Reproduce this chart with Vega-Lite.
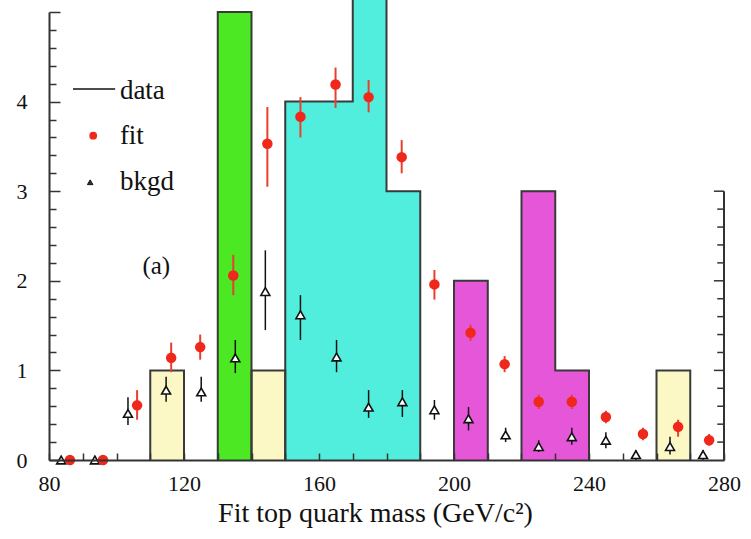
{
  "$schema": "https://vega.github.io/schema/vega-lite/v6.json",
  "width": 675,
  "height": 448,
  "autosize": {"type": "none"},
  "padding": {"left": 49, "top": 12, "right": 27, "bottom": 79},
  "background": "white",
  "config": {"view": {"stroke": null}, "font": "Liberation Serif"},
  "datasets": {
    "bins": [
      {"m": 110, "m2": 120, "v": 1, "c": "beige"},
      {"m": 130, "m2": 140, "v": 5, "c": "green"},
      {"m": 140, "m2": 150, "v": 1, "c": "beige"},
      {"m": 150, "m2": 160, "v": 4, "c": "cyan"},
      {"m": 160, "m2": 170, "v": 4, "c": "cyan"},
      {"m": 170, "m2": 180, "v": 6, "c": "cyan"},
      {"m": 180, "m2": 190, "v": 3, "c": "cyan"},
      {"m": 200, "m2": 210, "v": 2, "c": "magenta"},
      {"m": 220, "m2": 230, "v": 3, "c": "magenta"},
      {"m": 230, "m2": 240, "v": 1, "c": "magenta"},
      {"m": 260, "m2": 270, "v": 1, "c": "beige"}
    ],
    "outline": [
      {"g": "a", "o": 1, "m": 110, "v": 0}, {"g": "a", "o": 2, "m": 110, "v": 1}, {"g": "a", "o": 3, "m": 120, "v": 1}, {"g": "a", "o": 4, "m": 120, "v": 0},
      {"g": "b", "o": 1, "m": 130, "v": 0}, {"g": "b", "o": 2, "m": 130, "v": 5}, {"g": "b", "o": 3, "m": 140, "v": 5}, {"g": "b", "o": 4, "m": 140, "v": 0},
      {"g": "c", "o": 1, "m": 140, "v": 0}, {"g": "c", "o": 2, "m": 140, "v": 1}, {"g": "c", "o": 3, "m": 150, "v": 1}, {"g": "c", "o": 4, "m": 150, "v": 0},
      {"g": "d", "o": 1, "m": 150, "v": 0}, {"g": "d", "o": 2, "m": 150, "v": 4}, {"g": "d", "o": 3, "m": 170, "v": 4}, {"g": "d", "o": 4, "m": 170, "v": 6},
      {"g": "d", "o": 5, "m": 180, "v": 6}, {"g": "d", "o": 6, "m": 180, "v": 3}, {"g": "d", "o": 7, "m": 190, "v": 3}, {"g": "d", "o": 8, "m": 190, "v": 0},
      {"g": "e", "o": 1, "m": 200, "v": 0}, {"g": "e", "o": 2, "m": 200, "v": 2}, {"g": "e", "o": 3, "m": 210, "v": 2}, {"g": "e", "o": 4, "m": 210, "v": 0},
      {"g": "f", "o": 1, "m": 220, "v": 0}, {"g": "f", "o": 2, "m": 220, "v": 3}, {"g": "f", "o": 3, "m": 230, "v": 3}, {"g": "f", "o": 4, "m": 230, "v": 1},
      {"g": "f", "o": 5, "m": 240, "v": 1}, {"g": "f", "o": 6, "m": 240, "v": 0},
      {"g": "h", "o": 1, "m": 260, "v": 0}, {"g": "h", "o": 2, "m": 260, "v": 1}, {"g": "h", "o": 3, "m": 270, "v": 1}, {"g": "h", "o": 4, "m": 270, "v": 0}
    ],
    "fit": [
      {"m": 86.2, "v": 0, "lo": 0, "hi": 0.03},
      {"m": 96, "v": 0, "lo": 0, "hi": 0.03},
      {"m": 106.1, "v": 0.61, "lo": 0.45, "hi": 0.78},
      {"m": 116.2, "v": 1.14, "lo": 0.98, "hi": 1.31},
      {"m": 124.8, "v": 1.26, "lo": 1.12, "hi": 1.4},
      {"m": 134.6, "v": 2.06, "lo": 1.84, "hi": 2.29},
      {"m": 144.7, "v": 3.53, "lo": 3.05, "hi": 3.94},
      {"m": 154.5, "v": 3.83, "lo": 3.6, "hi": 4.05},
      {"m": 164.9, "v": 4.19, "lo": 3.93, "hi": 4.38},
      {"m": 174.7, "v": 4.05, "lo": 3.88, "hi": 4.24},
      {"m": 184.5, "v": 3.38, "lo": 3.2, "hi": 3.57},
      {"m": 194.2, "v": 1.96, "lo": 1.79, "hi": 2.12},
      {"m": 204.9, "v": 1.42, "lo": 1.33, "hi": 1.51},
      {"m": 215, "v": 1.07, "lo": 0.98, "hi": 1.16},
      {"m": 225.1, "v": 0.65, "lo": 0.57, "hi": 0.73},
      {"m": 234.9, "v": 0.65, "lo": 0.57, "hi": 0.73},
      {"m": 245, "v": 0.48, "lo": 0.41, "hi": 0.55},
      {"m": 256, "v": 0.29, "lo": 0.22, "hi": 0.36},
      {"m": 266.4, "v": 0.37, "lo": 0.26, "hi": 0.45},
      {"m": 275.6, "v": 0.22, "lo": 0.16, "hi": 0.29}
    ],
    "bkgd": [
      {"m": 83.6, "v": 0, "lo": 0, "hi": 0.03},
      {"m": 93.6, "v": 0, "lo": 0, "hi": 0.03},
      {"m": 103.4, "v": 0.52, "lo": 0.39, "hi": 0.7},
      {"m": 114.7, "v": 0.78, "lo": 0.65, "hi": 0.93},
      {"m": 125.1, "v": 0.76, "lo": 0.65, "hi": 0.93},
      {"m": 135.2, "v": 1.14, "lo": 0.97, "hi": 1.34},
      {"m": 144.1, "v": 1.88, "lo": 1.45, "hi": 2.34},
      {"m": 154.5, "v": 1.62, "lo": 1.34, "hi": 1.84},
      {"m": 165.2, "v": 1.15, "lo": 0.98, "hi": 1.34},
      {"m": 174.7, "v": 0.59, "lo": 0.47, "hi": 0.78},
      {"m": 184.7, "v": 0.65, "lo": 0.48, "hi": 0.78},
      {"m": 194.2, "v": 0.56, "lo": 0.45, "hi": 0.67},
      {"m": 204.3, "v": 0.46, "lo": 0.33, "hi": 0.59},
      {"m": 215.3, "v": 0.28, "lo": 0.2, "hi": 0.36},
      {"m": 225.1, "v": 0.15, "lo": 0.09, "hi": 0.22},
      {"m": 234.9, "v": 0.26, "lo": 0.17, "hi": 0.36},
      {"m": 245, "v": 0.22, "lo": 0.13, "hi": 0.31},
      {"m": 253.9, "v": 0.06, "lo": 0, "hi": 0.11},
      {"m": 264, "v": 0.15, "lo": 0.06, "hi": 0.26},
      {"m": 273.8, "v": 0.06, "lo": 0, "hi": 0.11}
    ],
    "rminor": [
      {"v": 0.2}, {"v": 0.4}, {"v": 0.6}, {"v": 0.8}, {"v": 1.2}, {"v": 1.4}, {"v": 1.6}, {"v": 1.8},
      {"v": 2.2}, {"v": 2.4}, {"v": 2.6}, {"v": 2.8}
    ],
    "rmajor": [{"v": 1}, {"v": 2}, {"v": 3}]
  },
  "layer": [
    {
      "data": {"name": "bins"},
      "mark": {"type": "bar", "strokeWidth": 1},
      "encoding": {
        "x": {
          "field": "m",
          "type": "quantitative",
          "scale": {"domain": [80, 280], "nice": false, "zero": false},
          "title": "Fit top quark mass (GeV/c²)",
          "axis": {
            "values": [80, 90, 100, 110, 120, 130, 140, 150, 160, 170, 180, 190, 200, 210, 220, 230, 240, 250, 260, 270, 280],
            "tickCount": 200,
            "labelExpr": "datum.value % 40 === 0 ? format(datum.value, 'd') : ''",
            "tickSize": -7,
            "tickColor": "#333",
            "tickWidth": 1.5,
            "domainColor": "#333",
            "domainWidth": 2,
            "labelFont": "Liberation Serif",
            "labelFontSize": 22,
            "labelColor": "#111",
            "labelPadding": 20,
            "labelFlush": false,
            "labelOverlap": false,
            "titleFont": "Liberation Serif",
            "titleFontSize": 28,
            "titleFontWeight": "normal",
            "titleColor": "#111",
            "titlePadding": 5,
            "titleX": 326,
            "titleAlign": "center",
            "grid": false,
            "zindex": 1
          }
        },
        "x2": {"field": "m2"},
        "y": {
          "field": "v",
          "type": "quantitative",
          "stack": null,
          "scale": {"domain": [0, 5], "nice": false, "zero": true},
          "title": "",
          "axis": {
            "values": [0, 0.2, 0.4, 0.6, 0.8, 1, 1.2, 1.4, 1.6, 1.8, 2, 2.2, 2.4, 2.6, 2.8, 3, 3.2, 3.4, 3.6, 3.8, 4, 4.2, 4.4, 4.6, 4.8, 5],
            "tickCount": 200,
            "labelExpr": "datum.value % 1 === 0 && datum.value < 5 ? format(datum.value, 'd') : ''",
            "tickSize": {"condition": {"test": "datum.value % 1 === 0", "value": -11}, "value": -7},
            "tickColor": "#333",
            "tickWidth": 1.5,
            "domainColor": "#333",
            "domainWidth": 2,
            "labelFont": "Liberation Serif",
            "labelFontSize": 22,
            "labelColor": "#111",
            "labelPadding": 33,
            "labelFlush": false,
            "labelOverlap": false,
            "grid": false,
            "zindex": 1
          }
        },
        "y2": {"datum": 0},
        "color": {
          "field": "c",
          "type": "nominal",
          "scale": {"domain": ["beige", "green", "cyan", "magenta"], "range": ["#fbf8c6", "#4ce823", "#52eedd", "#e656d9"]},
          "legend": null
        },
        "stroke": {
          "field": "c",
          "type": "nominal",
          "scale": {"domain": ["beige", "green", "cyan", "magenta"], "range": ["#fbf8c6", "#4ce823", "#52eedd", "#e656d9"]},
          "legend": null
        }
      }
    },
    {
      "data": {"name": "outline"},
      "mark": {"type": "line", "color": "#3a3a3a", "strokeWidth": 2, "strokeJoin": "miter"},
      "encoding": {
        "x": {"field": "m", "type": "quantitative"},
        "y": {"field": "v", "type": "quantitative"},
        "detail": {"field": "g"},
        "order": {"field": "o", "type": "quantitative"}
      }
    },
    {
      "data": {"values": [{"a": 1}]},
      "mark": {"type": "rule", "color": "#333", "strokeWidth": 2},
      "encoding": {
        "x": {"datum": 280, "type": "quantitative"},
        "y": {"datum": 0, "type": "quantitative"},
        "y2": {"datum": 3}
      }
    },
    {
      "data": {"name": "rminor"},
      "mark": {"type": "rule", "color": "#333", "strokeWidth": 1.5},
      "encoding": {
        "x": {"datum": 280, "type": "quantitative"},
        "x2": {"datum": 278},
        "y": {"field": "v", "type": "quantitative"}
      }
    },
    {
      "data": {"name": "rmajor"},
      "mark": {"type": "rule", "color": "#333", "strokeWidth": 1.5},
      "encoding": {
        "x": {"datum": 280, "type": "quantitative"},
        "x2": {"datum": 277},
        "y": {"field": "v", "type": "quantitative"}
      }
    },
    {
      "data": {"name": "bkgd"},
      "mark": {"type": "rule", "color": "#111", "strokeWidth": 1.5},
      "encoding": {
        "x": {"field": "m", "type": "quantitative"},
        "y": {"field": "lo", "type": "quantitative"},
        "y2": {"field": "hi"}
      }
    },
    {
      "data": {"name": "bkgd"},
      "mark": {"type": "point", "shape": "triangle-up", "filled": true, "fill": "white", "stroke": "#111", "strokeWidth": 1.6, "size": 80, "opacity": 1},
      "encoding": {
        "x": {"field": "m", "type": "quantitative"},
        "y": {"field": "v", "type": "quantitative"}
      }
    },
    {
      "data": {"name": "fit"},
      "mark": {"type": "rule", "color": "#e8402f", "strokeWidth": 2},
      "encoding": {
        "x": {"field": "m", "type": "quantitative"},
        "y": {"field": "lo", "type": "quantitative"},
        "y2": {"field": "hi"}
      }
    },
    {
      "data": {"name": "fit"},
      "mark": {"type": "point", "shape": "circle", "filled": true, "color": "#f0271b", "size": 110, "opacity": 1},
      "encoding": {
        "x": {"field": "m", "type": "quantitative"},
        "y": {"field": "v", "type": "quantitative"}
      }
    },
    {
      "data": {"values": [{"a": 1}]},
      "mark": {"type": "rule", "color": "#111", "strokeWidth": 1.5},
      "encoding": {
        "x": {"datum": 87.1, "type": "quantitative"},
        "x2": {"datum": 99.6},
        "y": {"datum": 4.14, "type": "quantitative"}
      }
    },
    {
      "data": {"values": [{"a": 1}]},
      "mark": {"type": "point", "shape": "circle", "filled": true, "color": "#f0271b", "size": 60, "opacity": 1},
      "encoding": {
        "x": {"datum": 93.1, "type": "quantitative"},
        "y": {"datum": 3.62, "type": "quantitative"}
      }
    },
    {
      "data": {"values": [{"a": 1}]},
      "mark": {"type": "point", "shape": "triangle-up", "filled": true, "fill": "#333", "stroke": "#111", "strokeWidth": 1, "size": 30, "opacity": 1},
      "encoding": {
        "x": {"datum": 92.2, "type": "quantitative"},
        "y": {"datum": 3.1, "type": "quantitative"}
      }
    },
    {
      "data": {"values": [{"a": 1}]},
      "mark": {"type": "text", "text": "data", "align": "left", "baseline": "middle", "font": "Liberation Serif", "fontSize": 27, "color": "#111"},
      "encoding": {
        "x": {"datum": 101, "type": "quantitative"},
        "y": {"datum": 4.12, "type": "quantitative"}
      }
    },
    {
      "data": {"values": [{"a": 1}]},
      "mark": {"type": "text", "text": "fit", "align": "left", "baseline": "middle", "font": "Liberation Serif", "fontSize": 27, "color": "#111"},
      "encoding": {
        "x": {"datum": 101, "type": "quantitative"},
        "y": {"datum": 3.62, "type": "quantitative"}
      }
    },
    {
      "data": {"values": [{"a": 1}]},
      "mark": {"type": "text", "text": "bkgd", "align": "left", "baseline": "middle", "font": "Liberation Serif", "fontSize": 27, "color": "#111"},
      "encoding": {
        "x": {"datum": 101, "type": "quantitative"},
        "y": {"datum": 3.1, "type": "quantitative"}
      }
    },
    {
      "data": {"values": [{"a": 1}]},
      "mark": {"type": "text", "text": "(a)", "align": "center", "baseline": "middle", "font": "Liberation Serif", "fontSize": 25, "color": "#111"},
      "encoding": {
        "x": {"datum": 111.8, "type": "quantitative"},
        "y": {"datum": 2.17, "type": "quantitative"}
      }
    }
  ]
}
